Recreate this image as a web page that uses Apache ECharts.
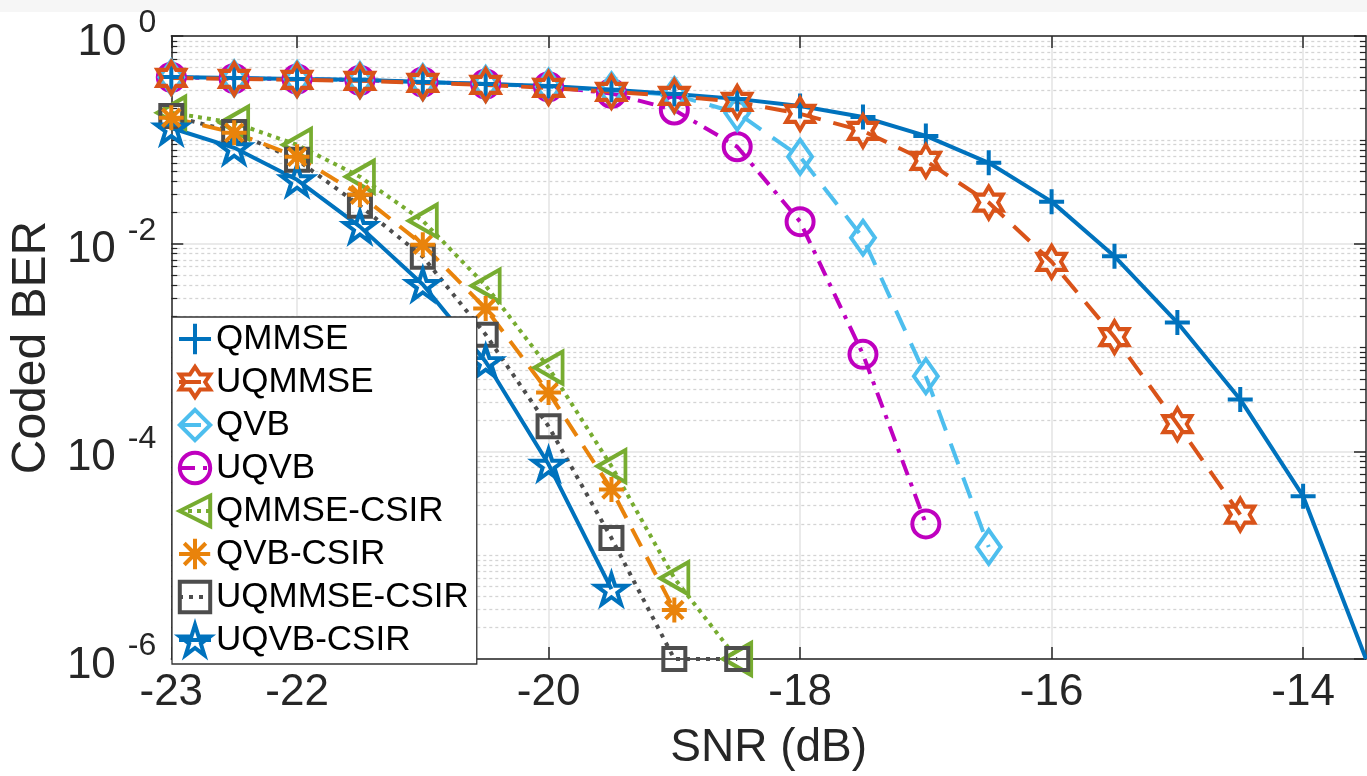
<!DOCTYPE html>
<html><head><meta charset="utf-8">
<script src="https://cdn.jsdelivr.net/npm/echarts@6/dist/echarts.min.js"></script>
<style>html,body{margin:0;padding:0;background:#fff}#c{width:1367px;height:776px}</style>
</head><body><div id="c"></div><script>
// ---- data ----
const snrQMMSE = [-23,-22.5,-22,-21.5,-21,-20.5,-20,-19.5,-19,-18.5,-18,-17.5,-17,-16.5,-16,-15.5,-15,-14.5,-14,-13.5];
const berQMMSE = [0.403,0.395,0.386,0.378,0.361,0.345,0.330,0.303,0.277,0.248,0.212,0.166,0.109,0.0601,0.0254,0.00755,0.00174,3.16e-4,3.7e-5,1.0e-6];
const snrUQMMSE = [-23,-22.5,-22,-21.5,-21,-20.5,-20,-19.5,-19,-18.5,-18,-17.5,-17,-16.5,-16,-15.5,-15,-14.5];
const berUQMMSE = [0.395,0.386,0.378,0.370,0.353,0.338,0.316,0.290,0.265,0.232,0.178,0.122,0.0627,0.0249,0.00669,0.00126,1.83e-4,2.46e-5];
const snrQVB = [-23,-22.5,-22,-21.5,-21,-20.5,-20,-19.5,-19,-18.5,-18,-17.5,-17,-16.5];
const berQVB = [0.40,0.39,0.385,0.375,0.36,0.345,0.325,0.30,0.27,0.182,0.0687,0.0114,5.3e-4,1.2e-5];
const snrUQVB = [-23,-22.5,-22,-21.5,-21,-20.5,-20,-19.5,-19,-18.5,-18,-17.5,-17];
const berUQVB = [0.40,0.39,0.385,0.375,0.36,0.345,0.325,0.28,0.194,0.0859,0.0163,8.6e-4,2.0e-5];
const snrQMMSECSIR = [-23,-22.5,-22,-21.5,-21,-20.5,-20,-19.5,-19,-18.5];
const berQMMSECSIR = [0.182,0.146,0.0895,0.0441,0.0166,0.00394,6.4e-4,7.2e-5,6.0e-6,1.0e-6];
const snrQVBCSIR = [-23,-22.5,-22,-21.5,-21,-20.5,-20,-19.5,-19];
const berQVBCSIR = [0.163,0.117,0.0687,0.0296,0.00977,0.00237,3.69e-4,4.3e-5,2.96e-6];
const snrUQMMSECSIR = [-23,-22.5,-22,-21.5,-21,-20.5,-20,-19.5,-19,-18.5];
const berUQMMSECSIR = [0.170,0.119,0.0643,0.0232,0.0075,0.00133,1.74e-4,1.46e-5,1.0e-6,1.0e-6];
const snrUQVBCSIR = [-23,-22.5,-22,-21.5,-21,-20.5,-20,-19.5];
const berUQVBCSIR = [0.130,0.0838,0.0412,0.0146,0.00404,7.3e-4,7.5e-5,4.7e-6];

const seriesNames = ['QMMSE','UQMMSE','QVB','UQVB','QMMSE-CSIR','QVB-CSIR','UQMMSE-CSIR','UQVB-CSIR'];
const xTicks = [-23,-22,-20,-18,-16,-14];
const yMajorTicks = [1e-6,1e-4,1e-2,1];
const xName = 'SNR (dB)';
const yName = 'Coded BER';

// minor log grid positions (scaffolding, not data)
const yMinorTicks = [];
for (let k = -6; k < 0; k++) {
  for (let m = 1; m <= 9; m++) {
    if (m === 1 && (k % 2 === 0)) continue;
    yMinorTicks.push(parseFloat((m * Math.pow(10, k)).toPrecision(6)));
  }
}

const F = "'Liberation Sans', Arial, Helvetica, sans-serif";
const AX = '#262626';
const LW = 4;
const SYM = {
  plus: 'path://M0,-10L0,10M-10,0L10,0',
  hex: 'path://M0,-10L2.887,-5L8.66,-5L5.774,0L8.66,5L2.887,5L0,10L-2.887,5L-8.66,5L-5.774,0L-8.66,-5L-2.887,-5Z',
  star: 'path://M0,-10L2.245,-3.09L9.51,-3.09L3.633,1.18L5.88,8.09L0,3.82L-5.88,8.09L-3.633,1.18L-9.51,-3.09L-2.245,-3.09Z',
  ast: 'path://M0,-10L0,10M-10,0L10,0M-7.07,-7.07L7.07,7.07M-7.07,7.07L7.07,-7.07',
  left: 'path://M0,10L17,0L17,20Z'
};

function mk(name, xs, ys, color, dash, symbol, size) {
  return {
    name: name, type: 'line', xAxisIndex: 0, yAxisIndex: 0,
    data: xs.map((x, i) => [x, ys[i]]),
    symbol: symbol, symbolSize: size, showSymbol: true,
    lineStyle: { color: color, width: LW, type: dash },
    itemStyle: { color: 'rgba(255,255,255,0)', borderColor: color, borderWidth: LW },
    emphasis: { disabled: true }, silent: true
  };
}

const series = [
  mk('UQVB', snrUQVB, berUQVB, '#BF00BF', [16, 8, 4, 8], 'circle', 27),
  mk('QVB', snrQVB, berQVB, '#4DBEEE', [22, 14], 'diamond', [24, 34]),
  mk('QMMSE', snrQMMSE, berQMMSE, '#0072BD', 'solid', SYM.plus, 25),
  mk('UQMMSE', snrUQMMSE, berUQMMSE, '#D95319', [22, 13], SYM.hex, [28, 32]),
  mk('QMMSE-CSIR', snrQMMSECSIR, berQMMSECSIR, '#77AC30', [4, 5], SYM.left, [28, 32]),
  mk('UQMMSE-CSIR', snrUQMMSECSIR, berUQMMSECSIR, '#4D4D4D', [4, 6], 'rect', 22),
  mk('UQVB-CSIR', snrUQVBCSIR, berUQVBCSIR, '#0072BD', 'solid', SYM.star, [31, 30]),
  mk('QVB-CSIR', snrQVBCSIR, berQVBCSIR, '#E9830B', [20, 12], SYM.ast, 25)
];
// the last QMMSE point sits on the figure's cropped corner; its marker is not visible there
series[2].data[series[2].data.length - 1] = { value: series[2].data[series[2].data.length - 1], symbol: 'none' };

const chart = echarts.init(document.getElementById('c'), null, { renderer: 'canvas' });
chart.setOption({
  animation: false,
  backgroundColor: '#fff',
  textStyle: { fontFamily: F },
  graphic: [{ type: 'rect', shape: { x: 0, y: 0, width: 1367, height: 12 }, style: { fill: '#f6f6f6' }, silent: true, z: -1 }],
  grid: { left: 170, right: 1, top: 36, bottom: 114, containLabel: false },
  legend: {
    orient: 'vertical', left: 172, top: 317,
    padding: [2, 8, 4, 5], itemWidth: 32, itemHeight: 38, itemGap: 3,
    backgroundColor: '#fff', borderColor: '#333', borderWidth: 1.3, borderRadius: 0,
    lineStyle: { width: LW }, itemStyle: { borderWidth: LW },
    textStyle: { fontSize: 35, color: '#000', fontFamily: F, lineHeight: 40 },
    data: seriesNames, selectedMode: false
  },
  xAxis: [{
    type: 'value', min: -23, max: -13.5, position: 'bottom',
    axisLine: { show: true, onZero: false, lineStyle: { color: AX, width: 1.5 } },
    axisTick: { show: true, inside: true, length: 12, customValues: xTicks, lineStyle: { color: AX, width: 1.5 } },
    axisLabel: { show: true, customValues: xTicks, fontSize: 44, color: AX, margin: 12, fontFamily: F },
    splitLine: { show: true, lineStyle: { color: '#e3e3e3', width: 1.5 } },
    name: xName, nameLocation: 'middle', nameGap: 66,
    nameTextStyle: { fontSize: 46, color: AX, fontFamily: F }
  }, {
    type: 'value', min: -23, max: -13.5, position: 'top',
    axisLine: { show: true, onZero: false, lineStyle: { color: AX, width: 1.5 } },
    axisTick: { show: true, inside: true, length: 12, customValues: xTicks, lineStyle: { color: AX, width: 1.5 } },
    axisLabel: { show: false }, splitLine: { show: false }
  }],
  yAxis: [{
    type: 'log', logBase: 10, min: 1e-6, max: 1, position: 'left',
    axisLine: { show: true, onZero: false, lineStyle: { color: AX, width: 1.5 } },
    axisTick: { show: true, inside: true, length: 12, customValues: yMajorTicks, lineStyle: { color: AX, width: 1.5 } },
    axisLabel: {
      show: true, customValues: yMajorTicks, margin: 15, color: AX, fontFamily: F,
      formatter: function (v) {
        const k = Math.round(Math.log10(v));
        return '{b|10}{e|' + (k === 0 ? '0' : '-' + (-k)) + '}';
      },
      rich: {
        b: { fontSize: 44, color: AX, fontFamily: F, verticalAlign: 'bottom' },
        e: { fontSize: 32, color: AX, fontFamily: F, verticalAlign: 'top', lineHeight: 57, padding: [0, 0, 0, 12] }
      }
    },
    splitLine: { show: true, lineStyle: { color: '#e3e3e3', width: 1.5 } },
    name: yName, nameLocation: 'middle', nameGap: 105,
    nameTextStyle: { fontSize: 48, color: AX, fontFamily: F }
  }, {
    type: 'log', logBase: 10, min: 1e-6, max: 1, position: 'left',
    axisLine: { show: false },
    axisTick: { show: true, inside: true, length: 6, customValues: yMinorTicks, lineStyle: { color: AX, width: 1.2 } },
    axisLabel: { show: false, customValues: yMinorTicks },
    splitLine: { show: true, lineStyle: { color: '#d4d4d4', width: 1.3, type: [3, 3] } }
  }, {
    type: 'log', logBase: 10, min: 1e-6, max: 1, position: 'right',
    axisLine: { show: true, onZero: false, lineStyle: { color: AX, width: 1.5 } },
    axisTick: { show: true, inside: true, length: 12, customValues: yMajorTicks, lineStyle: { color: AX, width: 1.5 } },
    axisLabel: { show: false }, splitLine: { show: false }
  }, {
    type: 'log', logBase: 10, min: 1e-6, max: 1, position: 'right',
    axisLine: { show: false },
    axisTick: { show: true, inside: true, length: 6, customValues: yMinorTicks, lineStyle: { color: AX, width: 1.2 } },
    axisLabel: { show: false }, splitLine: { show: false }
  }],
  series: series
});
</script></body></html>
